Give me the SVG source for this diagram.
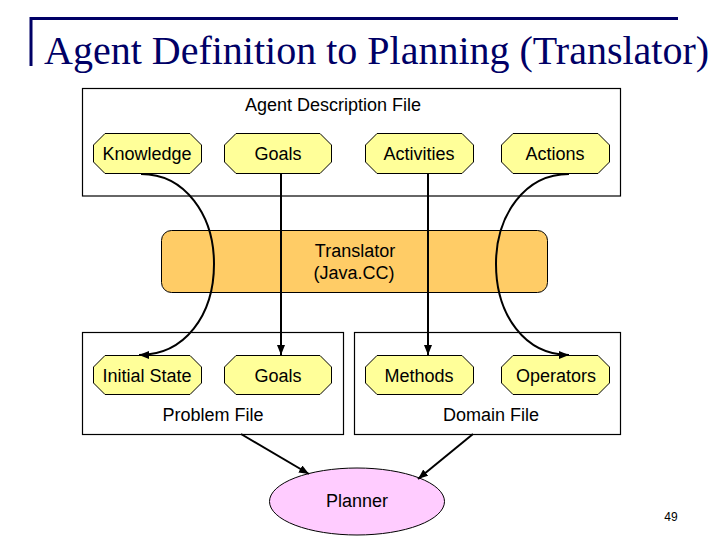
<svg xmlns="http://www.w3.org/2000/svg" width="720" height="540" viewBox="0 0 720 540">
<style>
text{font-family:"Liberation Sans",Arial,sans-serif;font-size:18px;fill:#000;text-anchor:middle}
.title{font-family:"Liberation Serif","Times New Roman",serif;font-size:40px;fill:#000066;text-anchor:start}
.box{fill:#fff;stroke:#000;stroke-width:1.2}
.oct{fill:#ffff99;stroke:#000;stroke-width:1}
.c{fill:none;stroke:#000;stroke-width:2}
</style>
<defs>
<marker id="a" markerUnits="userSpaceOnUse" markerWidth="12" markerHeight="10" refX="10" refY="4" orient="auto"><path d="M0 0L10 4L0 8Z" fill="#000"/></marker>
</defs>
<g id="title-bar"><path d="M31 66V18.500H678" fill="none" stroke="#000066" stroke-width="3"/></g>
<text class="title" x="44" y="64">Agent Definition to Planning (Translator)</text>
<g id="agent-file"><rect class="box" x="82.500" y="88.500" width="538" height="107.500"/><text x="333" y="110.500">Agent Description File</text></g>
<g id="translator"><rect x="161.500" y="230.500" width="386" height="62" rx="10" fill="#ffcc66" stroke="#000" stroke-width="1"/><text x="355" y="256.500">Translator</text><text x="354" y="278.500">(Java.CC)</text></g>
<g id="problem-file"><rect class="box" x="82.500" y="332.500" width="261" height="102"/><text x="213" y="420.500">Problem File</text></g>
<g id="domain-file"><rect class="box" x="354.500" y="332.500" width="266" height="102"/><text x="491" y="420.500">Domain File</text></g>
<g id="knowledge"><path class="oct" d="M105 133.500H190L201.500 145V162L190 173.500H105L93.500 162V145Z"/><text x="147" y="159.500">Knowledge</text></g>
<g id="goals-top"><path class="oct" d="M236 133.500H320L331.500 145V162L320 173.500H236L224.500 162V145Z"/><text x="278" y="159.500">Goals</text></g>
<g id="activities"><path class="oct" d="M377 133.500H462L473.500 145V162L462 173.500H377L365.500 162V145Z"/><text x="419" y="159.500">Activities</text></g>
<g id="actions"><path class="oct" d="M513 133.500H598L609.500 145V162L598 173.500H513L501.500 162V145Z"/><text x="555" y="159.500">Actions</text></g>
<g id="initial-state"><path class="oct" d="M105 355.500H190L201.500 367V383L190 394.500H105L93.500 383V367Z"/><text x="147" y="381.500">Initial State</text></g>
<g id="goals-bottom"><path class="oct" d="M236 355.500H320L331.500 367V383L320 394.500H236L224.500 383V367Z"/><text x="278" y="381.500">Goals</text></g>
<g id="methods"><path class="oct" d="M377 355.500H462L473.500 367V383L462 394.500H377L365.500 383V367Z"/><text x="419" y="381.500">Methods</text></g>
<g id="operators"><path class="oct" d="M513 355.500H598L609.500 367V383L598 394.500H513L501.500 383V367Z"/><text x="556" y="381.500">Operators</text></g>
<g id="planner"><ellipse cx="357" cy="501.500" rx="87.500" ry="33.500" fill="#ffccff" stroke="#000" stroke-width="1"/><text x="357" y="507">Planner</text></g>
<g id="connectors">
<path class="c" marker-end="url(#a)" d="M141 174C185 174 214 215 214 264C214 315 185 355 139 355"/>
<path class="c" marker-end="url(#a)" d="M281 174V355"/>
<path class="c" marker-end="url(#a)" d="M428 174V355"/>
<path class="c" marker-end="url(#a)" d="M569 174C525 174 496 215 496 264C496 315 525 355 569 355"/>
<path class="c" marker-end="url(#a)" d="M241 434L309 474"/>
<path class="c" marker-end="url(#a)" d="M473 434L418 479"/>
</g>
<text x="671" y="521" style="font-size:12px">49</text>
</svg>
